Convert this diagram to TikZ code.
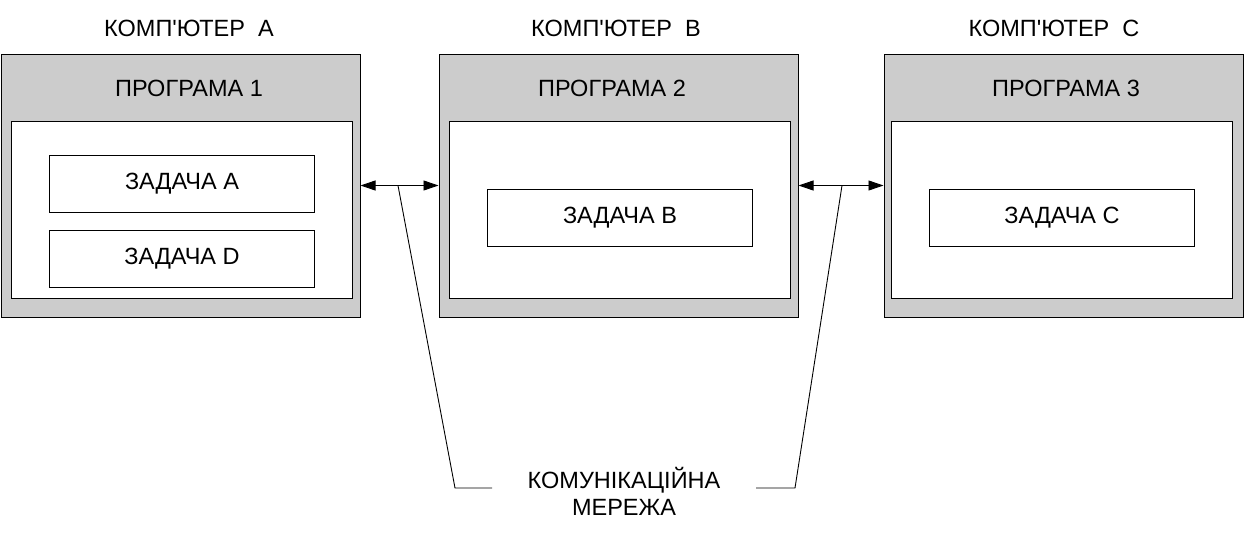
\documentclass[tikz,border=0pt]{standalone}
\usepackage{fontspec}
\setmainfont{Liberation Sans}
\usetikzlibrary{arrows.meta, positioning}
\definecolor{boxgray}{HTML}{CCCCCC}

\begin{document}
\begin{tikzpicture}[x=1pt, y=-1pt,
    % 1. Cajas
    comp/.style={draw, fill=boxgray, line width=1pt, minimum width=359pt, minimum height=263pt, inner sep=0pt},
    prog/.style={draw, fill=white, line width=0.9pt, minimum width=341pt, minimum height=177pt, inner sep=0pt},
    task/.style={draw, fill=white, line width=0.9pt, minimum width=265pt, minimum height=57pt, inner sep=0pt, font=\fontsize{23.5}{27}\selectfont},
    % 2. Textos
    title/.style={inner sep=0pt, font=\fontsize{23.5}{27}\selectfont},
    % 3. Conexiones
    link/.style={{Triangle[length=15pt, width=10pt]}-{Triangle[length=15pt, width=10pt]}, line width=0.9pt},
    wire/.style={line width=0.9pt}
]
    \useasboundingbox (0,0) rectangle (1245,549);

    % --- COMPUTADORAS ---
    \node[comp] (compA) at (180.5,185.5) {};
    \node[comp] (compB) at (618.5,185.5) {};
    \node[comp] (compC) at (1063.5,185.5) {};

    \node[title] (titleA) at (189,28) {КОМП\textquotesingle ЮТЕР\ \ A};
    \node[title] (titleB) at (616,28) {КОМП\textquotesingle ЮТЕР\ \ B};
    \node[title] (titleC) at (1054,28) {КОМП\textquotesingle ЮТЕР\ \ C};

    % --- PROGRAMAS ---
    \node[title] (labelA) at (189,88) {ПРОГРАМА 1};
    \node[title] (labelB) at (612,88) {ПРОГРАМА 2};
    \node[title] (labelC) at (1066,88) {ПРОГРАМА 3};

    \node[prog] (progA) at (181.5,209.5) {};
    \node[prog] (progB) at (620,209.5) {};
    \node[prog] (progC) at (1062,209.5) {};

    % --- TAREAS ---
    \node[task] (taskA) at (182,183.5) {ЗАДАЧА A};
    \node[task] (taskD) at (182,259) {ЗАДАЧА D};
    \node[task] (taskB) at (620,217.5) {ЗАДАЧА B};
    \node[task] (taskC) at (1062,217.5) {ЗАДАЧА C};

    % --- RED ---
    \draw[link] (compA.east) -- (compB.west);
    \draw[link] (compB.east) -- (compC.west);

    \node[title, align=center] (net) at (624,491) {КОМУНІКАЦІЙНА\\МЕРЕЖА};

    \coordinate (jab) at (398,185.5);
    \coordinate (jbc) at (842,185.5);
    \coordinate (endab) at (492,488);
    \coordinate (endbc) at (756,488);

    \draw[wire] (jab) -- (455,488) -- (endab);
    \draw[wire] (jbc) -- (795,488) -- (endbc);

\end{tikzpicture}
\end{document}
